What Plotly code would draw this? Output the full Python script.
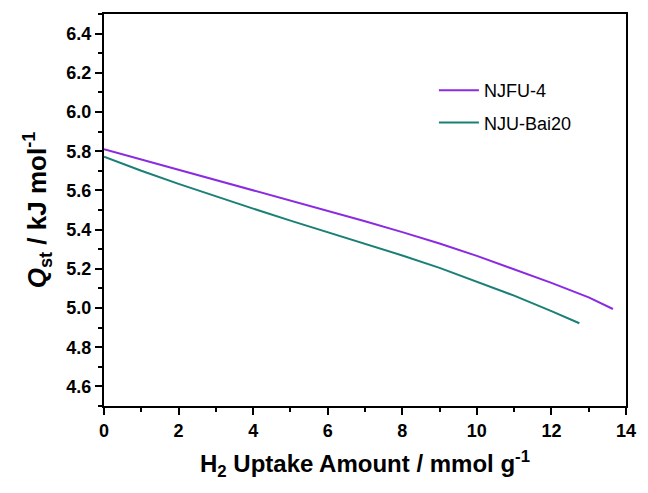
import plotly.graph_objects as go

njfu_x = [0, 1, 2, 3, 4, 5, 6, 7, 8, 9, 10, 11, 12, 13, 13.65]
njfu_y = [5.81, 5.758, 5.706, 5.654, 5.602, 5.550, 5.497, 5.443, 5.387, 5.329, 5.266, 5.198, 5.128, 5.054, 4.995]

bai_x = [0, 1, 2, 3, 4, 5, 6, 7, 8, 9, 10, 11, 12, 12.75]
bai_y = [5.772, 5.700, 5.633, 5.569, 5.507, 5.446, 5.387, 5.328, 5.268, 5.205, 5.136, 5.063, 4.984, 4.922]

x_ticks = [0, 2, 4, 6, 8, 10, 12, 14]
y_ticks = [4.6, 4.8, 5.0, 5.2, 5.4, 5.6, 5.8, 6.0, 6.2, 6.4]

FONT = "Liberation Sans, Arial, sans-serif"

fig = go.Figure()
fig.add_trace(go.Scatter(x=njfu_x, y=njfu_y, mode="lines", name="NJFU-4", legendgroup="a",
                         line=dict(color="#8a2be2", width=2)))
fig.add_trace(go.Scatter(x=bai_x, y=bai_y, mode="lines", name="NJU-Bai20", legendgroup="b",
                         line=dict(color="#1a8077", width=2)))

axis_common = dict(showline=True, linecolor="black", linewidth=2, mirror=True,
                   ticks="outside", ticklen=7, tickwidth=2, tickcolor="black",
                   showgrid=False, zeroline=False,
                   tickfont=dict(family=FONT, size=18, color="black", weight="bold"))

fig.update_xaxes(range=[0, 14], tickvals=x_ticks,
                 ticktext=[str(v) for v in x_ticks],
                 minor=dict(dtick=1, ticks="outside", ticklen=4, tickwidth=2, tickcolor="black"),
                 title=dict(text="<b>H<sub>2</sub> Uptake Amount / mmol g<sup>-1</sup></b>",
                            font=dict(family=FONT, size=24, color="black"), standoff=16),
                 **axis_common)
fig.update_yaxes(range=[4.5, 6.5], tickvals=y_ticks,
                 ticktext=[f"{v:.1f}" for v in y_ticks],
                 minor=dict(dtick=0.1, tick0=4.5, ticks="outside", ticklen=4, tickwidth=2, tickcolor="black"),
                 title=dict(text="<b><i>Q</i><sub>st</sub> / kJ mol<sup>-1</sup></b>",
                            font=dict(family=FONT, size=26, color="black"), standoff=12),
                 **axis_common)

fig.update_layout(
    width=648, height=493,
    margin=dict(l=104, r=14, t=12, b=87),
    plot_bgcolor="white", paper_bgcolor="white",
    showlegend=True,
    legend=dict(x=0.632, y=0.852, xanchor="left", yanchor="top",
                bgcolor="rgba(0,0,0,0)", borderwidth=0,
                font=dict(family=FONT, size=18, color="black"),
                itemwidth=40, tracegroupgap=6),
)

fig.write_html("out.html")
